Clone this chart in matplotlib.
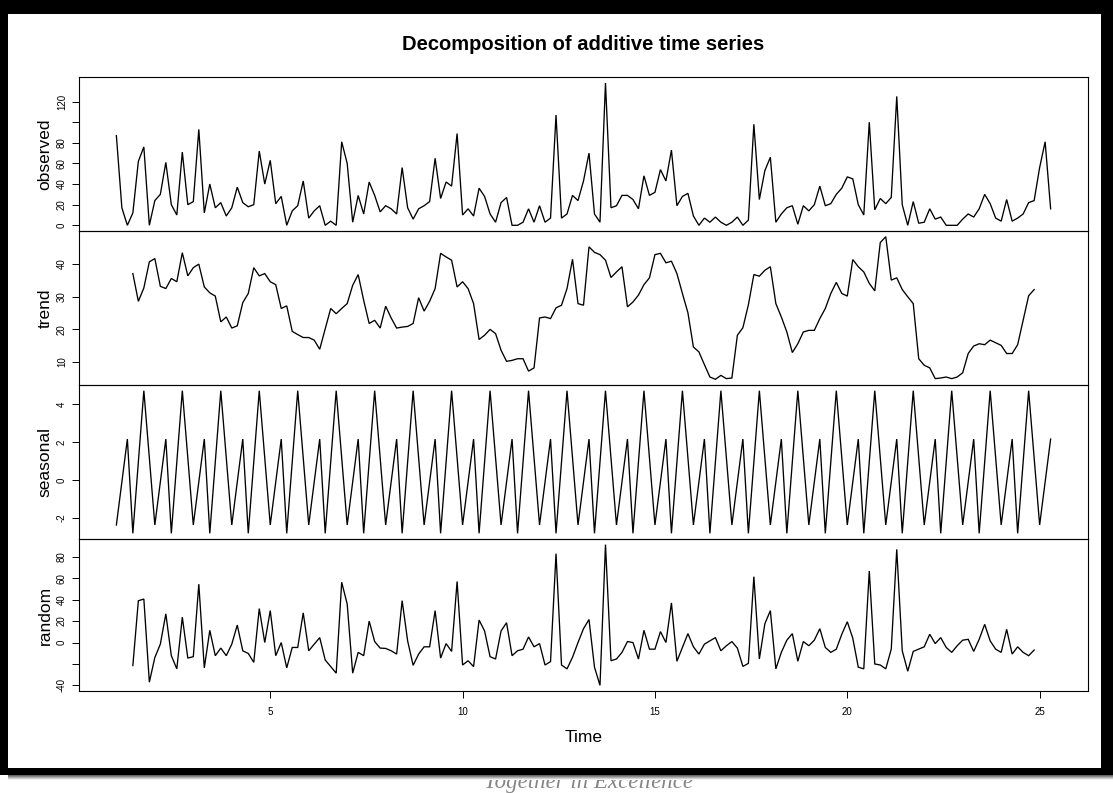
import numpy as np
import matplotlib
matplotlib.use("Agg")
import matplotlib.pyplot as plt
from matplotlib.patches import Rectangle

# ---- data: daily series (frequency 7), starting at time 1 ----
FREQ = 7
START = 1
TREND_OFFSET = 3  # centred moving average drops 3 points at each end

observed = [
    87, 17, 0, 12, 62, 76, 0, 24, 30, 61, 20, 10, 71, 20, 23, 93, 12, 40, 17, 22,
    9, 17, 37, 22, 18, 20, 72, 40, 63, 21, 28, 0, 14, 19, 43, 7, 14, 19, 0, 4,
    0, 81, 60, 3, 29, 11, 42, 29, 13, 19, 16, 11, 56, 17, 6, 16, 19, 23, 65, 26,
    42, 38, 89, 10, 16, 9, 36, 28, 11, 3, 22, 27, 0, 0, 3, 16, 3, 19, 3, 7,
    107, 7, 11, 29, 24, 43, 70, 11, 3, 138, 17, 19, 29, 29, 25, 16, 48, 29, 32, 54,
    43, 73, 19, 28, 31, 9, 0, 7, 3, 8, 3, 0, 3, 8, 0, 5, 98, 25, 53, 66,
    3, 11, 17, 19, 1, 19, 14, 20, 38, 19, 21, 30, 36, 47, 45, 20, 10, 100, 15, 26,
    21, 27, 125, 20, 0, 23, 2, 3, 16, 6, 8, 0, 0, 0, 6, 11, 8, 16, 30, 21,
    7, 4, 25, 4, 7, 11, 22, 24, 56, 81, 16,
]

trend = [
    37.1, 28.6, 32.7, 40.7, 41.7, 33.2, 32.5, 35.6, 34.6, 43.5, 36.4, 38.9, 40.0, 33.0,
    31.2, 30.2, 22.3, 23.8, 20.4, 21.1, 28.2, 31.0, 38.9, 36.4, 37.1, 34.6, 33.7, 26.4,
    27.2, 19.4, 18.4, 17.5, 17.5, 16.7, 13.9, 20.2, 26.4, 24.8, 26.4, 27.9, 33.5, 36.8,
    28.9, 21.8, 22.8, 20.4, 27.1, 23.5, 20.4, 20.7, 20.9, 21.8, 29.7, 25.6, 28.6, 32.5,
    43.3, 42.2, 41.2, 33.0, 34.6, 32.5, 27.9, 16.9, 18.2, 20.0, 18.7, 13.6, 10.2, 10.5,
    11.0, 11.0, 7.2, 8.2, 23.5, 23.8, 23.3, 26.6, 27.4, 32.5, 41.5, 27.9, 27.4, 45.3,
    43.6, 42.9, 41.2, 35.9, 37.6, 39.2, 26.9, 28.4, 30.5, 33.7, 35.8, 42.9, 43.3, 40.4,
    40.9, 37.1, 31.0, 25.1, 14.6, 13.1, 9.2, 5.4, 4.7, 5.9, 4.9, 5.1, 18.2, 20.5,
    27.5, 36.8, 36.3, 38.1, 39.2, 27.9, 23.8, 19.2, 12.9, 15.6, 19.2, 19.7, 19.7, 23.3,
    26.4, 31.0, 34.4, 31.0, 30.2, 41.4, 39.2, 37.6, 34.1, 31.8, 46.6, 48.4, 35.1, 35.8,
    32.2, 30.0, 27.9, 11.0, 9.0, 8.2, 4.9, 5.1, 5.4, 4.9, 5.4, 6.7, 12.6, 14.9,
    15.6, 15.3, 16.7, 15.9, 15.1, 12.6, 12.6, 15.3, 22.8, 30.3, 32.2,
]

# one weekly cycle of the seasonal component
seasonal_figure = [-2.38, -0.1, 2.17, -2.82, 0.96, 4.73, 1.17]

random_part = [
    -21.5, 39, 40.6, -37, -14, -1.5, 26.8, -12.3, -24.6, 23.7, -14.5, -13.2, 54.5, -23.7,
    11.4, -12.3, -5.2, -12.3, -1.5, 16.3, -7.7, -10.2, -18.5, 31.7, 0, 29.8, -12.3, 0,
    -23.7, -4.6, -4.6, 27.7, -7.7, -1.5, 4.6, -16.3, -22.5, -28.6, 56.3, 36, -28.6, -9.2,
    -12.3, 20, 0.9, -5.2, -5.5, -7.7, -10.8, 39.1, 1.5, -21.3, -10.8, -4, -4, 29.8,
    -14.5, -1, -8.3, 57, -21, -17, -22.5, 21, 10.8, -13.2, -15.4, 10.8, 18.5, -12.3,
    -7.7, -6.2, 5.2, -4, -1, -21, -17.8, 83, -21, -24.6, -13.8, 0, 12.9, 21.5,
    -23, -40, 91.4, -17, -15.4, -9.2, 0.9, 0, -15.4, 11.4, -6.2, -6.2, 10.2, 0,
    37, -17.5, -4.6, 8.3, -4, -10.8, -1.5, 1.5, 4.6, -7.7, -3, 0.9, -5.2, -22.3,
    -19.5, 61.5, -15.4, 17.5, 29.8, -24.6, -9.2, 2.2, 8.3, -17.5, 0.9, -3, 2.2, 12.9,
    -4.6, -9.2, -6.2, 7.7, 19.4, 4, -23, -24.6, 66.8, -20, -21, -24.6, -6.2, 87,
    -7.7, -26.8, -8.3, -6.2, -4, 7.7, -1, 4.6, -4.6, -9.2, -3, 2.2, 3, -8.3,
    3, 17, 1.5, -6.2, -9.2, 12.3, -10.8, -4, -9.2, -12.3, -7,
]

panel_names = ["observed", "trend", "seasonal", "random"]
ytick_values = {
    "observed": [0, 20, 40, 60, 80, 100, 120],
    "trend": [10, 20, 30, 40],
    "seasonal": [-2, 0, 2, 4],
    "random": [-40, -20, 0, 20, 40, 60, 80],
}
ytick_labels = {
    "observed": ["0", "20", "40", "60", "80", "", "120"],
    "trend": ["10", "20", "30", "40"],
    "seasonal": ["-2", "0", "2", "4"],
    "random": ["-40", "", "0", "20", "40", "60", "80"],
}
xtick_values = [5, 10, 15, 20, 25]
xtick_labels = ["5", "10", "15", "20", "25"]

# ---- time axes ----
n = len(observed)
t_all = START + np.arange(n) / FREQ
t_trend = t_all[TREND_OFFSET:TREND_OFFSET + len(trend)]
seasonal = np.resize(seasonal_figure, n)

series = {
    "observed": (t_all, np.array(observed, float)),
    "trend": (t_trend, np.array(trend, float)),
    "seasonal": (t_all, seasonal),
    "random": (t_trend, np.array(random_part, float)),
}

# ---- figure ----
W, H = 1113, 793
fig = plt.figure(figsize=(W / 100, H / 100), dpi=100)
fig.patch.set_facecolor("white")

# window frame behind the plot
bg = fig.add_axes([0, 0, 1, 1], zorder=-1)
bg.axis("off")
bg.text(588, 788, "Together in Excellence", ha="center", va="baseline",
        fontsize=16.5, family="Liberation Serif", style="italic",
        color="#858585", zorder=0.5)
bg.add_patch(Rectangle((0, 0), W, 775, facecolor="black", edgecolor="none", zorder=1))
bg.add_patch(Rectangle((8, 14), 1101 - 8, 768 - 14, facecolor="white",
                       edgecolor="none", zorder=2))
grad = np.linspace(0.35, 1.0, 16).reshape(-1, 1)
bg.imshow(grad, extent=(8, W, 780, 775), cmap="gray", vmin=0, vmax=1,
          aspect="auto", zorder=3, interpolation="bilinear")
bg.set_xlim(0, W)
bg.set_ylim(H, 0)

left_px, right_px = 79, 1088
edges_px = [77.3, 231, 385, 539, 691]

tmin, tmax = t_all[0], t_all[-1]
xpad = 0.04 * (tmax - tmin)

tick_font = dict(family="Liberation Sans", size=7)
label_font = dict(family="Liberation Sans", size=12.5)
ylabel_x = (45 - left_px) / (right_px - left_px)

axes = []
for k, name in enumerate(panel_names):
    top, bottom = edges_px[k], edges_px[k + 1]
    ax = fig.add_axes([left_px / W, 1 - bottom / H,
                       (right_px - left_px) / W, (bottom - top) / H], zorder=2)
    ax.set_facecolor("none")
    x, y = series[name]
    ax.plot(x, y, color="black", lw=0.95, solid_joinstyle="miter")
    ax.set_xlim(tmin - xpad, tmax + xpad)
    lo, hi = np.nanmin(y), np.nanmax(y)
    ypad = 0.04 * (hi - lo)
    ax.set_ylim(lo - ypad, hi + ypad)
    ax.set_yticks(ytick_values[name])
    ax.set_yticklabels(ytick_labels[name], rotation=90, va="center", **tick_font)
    ax.tick_params(axis="y", length=5.2, width=0.7, pad=3.5, color="black")
    ax.set_ylabel(name, **label_font)
    ax.yaxis.label.set_va("center")
    ax.yaxis.set_label_coords(ylabel_x, 0.5)
    for s in ax.spines.values():
        s.set_linewidth(0.8)
        s.set_color("black")
    if name == "random":
        ax.set_xticks(xtick_values)
        ax.set_xticklabels(xtick_labels, **tick_font)
        ax.tick_params(axis="x", length=5.2, width=0.7, pad=6, color="black")
    else:
        ax.set_xticks([])
    axes.append(ax)

fig.text(583.5 / W, 1 - 44 / H, "Decomposition of additive time series",
         ha="center", va="center", family="Liberation Sans", weight="bold", size=14.5)
fig.text(583.5 / W, 1 - 737 / H, "Time", ha="center", va="center", **label_font)

fig.savefig("out.png", dpi=100)
